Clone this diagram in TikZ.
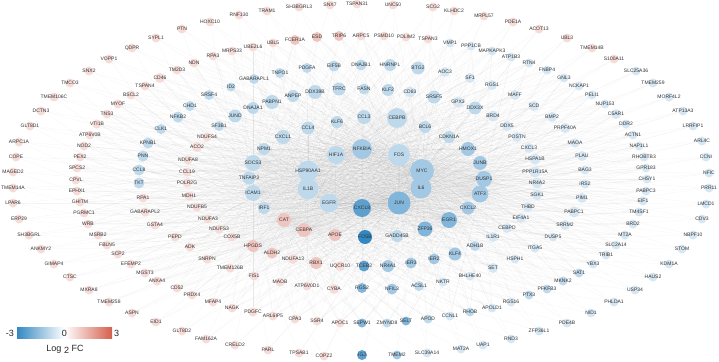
\documentclass[tikz,border=0pt]{standalone}
\usepackage{tikz}
\usepackage{fontspec}
\setmainfont{Liberation Sans}
\usetikzlibrary{backgrounds}

\definecolor{lfcblue}{RGB}{52,136,194}
\definecolor{lfcred}{RGB}{213,94,76}
\colorlet{u1}{lfcred!22!white}
\colorlet{u2}{lfcred!36!white}
\colorlet{d1}{lfcblue!20!white}
\colorlet{d2}{lfcblue!32!white}
\colorlet{d3}{lfcblue!46!white}
\colorlet{d4}{lfcblue!62!white}
\colorlet{d5}{lfcblue!80!white}
\colorlet{d6}{lfcblue}

% gene/x/y/diameter/colour
\newcommand\ringone{%
PTN/182/29/9/u1,HOXC10/210/22/9/u1,RNF130/239/15/9/u1,TRAM1/267/11/9/u1,%
SH3BGRL3/299/7/9/u1,SNX7/330/5/9/u1,TSPAN31/357/4/9/u1,UNC50/393/5/9/u1,%
SCG2/433/7/9/u1,KLHDC2/454/11/9/u1,MRPL57/484/16/9/u1,PDE1A/513/22/9/u1,%
ACOT13/539/29/9/u1,UBL3/567/38/9/u1,TMEM14B/592/48/9/u1,S100A11/614/59/9/u1,%
SLC25A36/636/71/9/d1,TMEM259/653/83/9/d1,MORF4L2/669/97/9/d1,ATP13A3/683/111/9/d1,%
LRRFIP1/693/126/9/d1,ARL4C/702/141/9/d1,CCNI/706/157/9/d1,NFIC/709/173/9/d1,%
PRR11/709/188/9/d1,LMCD1/706/204/9/d1,CDV3/702/219/9/d1,NBPF10/693/235/9/d1,%
STOM/682/249/9/d1,KDM1A/669/264/9/d1,HAUS2/653/277/9/d1,USP34/635/290/9/d1,%
PHLDA1/614/302/9/d1,NID1/591/313/9/d1,PDE4B/567/323/9/d1,ZFP36L1/539/331/9/d1,%
RND3/511/339/9/d1,UAP1/483/345/9/d1,MAT2A/461/349/9/d1,SLC39A14/427/353/9/d1,%
TMEM2/397/355/9/d3,IGJ/362/355/10/d5,COPZ2/324/356/9/u1,TPSAB1/299/353/9/u1,%
PARL/268/350/9/u1,CRELD2/235/345/9/u1,FAM162A/206/339/9/u1,GLT8D2/182/331/9/u1,%
EID1/156/322/9/u1,ASPN/132/313/9/u1,TMEM258/109/302/9/u1,MXRA8/89/290/9/u1,%
CTSC/70/277/9/u1,GIMAP4/54/264/9/u1,ANKMY2/41/249/9/u1,SH3BGRL/29/235/9/u1,%
ERP29/19/219/9/u1,LPAR6/13/203/9/u1,TMEM14A/13/188/9/u1,MAGED2/13/172/9/u1,%
COPE/16/157/9/u1,ARPC1A/19/142/9/u1,GLT8D1/30/126/9/u1,DCTN3/41/111/9/u1,%
TMEM106C/54/97/9/u1,TMCO3/70/83/9/u1,SNX2/89/71/9/u1,VOPP1/109/59/9/u1,%
QDPR/132/48/9/u1,SYPL1/156/38/9/u1}

\newcommand\ringtwo{%
CD46/160/78/10/u1,TSPAN4/145/86/9/u1,BSCL2/131/95/9/u1,MYOF/118/104/9/u1,%
TNS3/107/114/9/u1,VTI1B/97/124/9/u1,ATP6V0B/90/135/9/u1,NOD2/84/146/9/u1,%
PEX2/80/157/9/u1,SPCS2/77/168/9/u1,CPVL/76/180/9/u1,EPHX1/77/191/9/u1,%
GHITM/80/202/9/u1,PGRMC1/84/213/9/u1,WRB/88/224/9/u1,MSRB2/98/235/9/u1,%
FBLN5/107/245/9/u1,SCP2/118/254/9/u1,EFEMP2/131/264/9/u1,MGST3/145/273/9/u1,%
ANXA4/157/281/9/u1,CD52/177/288/9/u1,PRDX4/192/295/9/u1,MFAP4/213/302/9/u1,%
NAGK/232/308/9/u1,PDGFC/253/312/9/u1,ARL6IP5/273/316/9/u1,CPA3/295/319/9/u1,%
SSR4/317/321/9/u1,APOC1/340/323/9/u1,SEPW1/362/323/9/d4,ZMYND8/387/323/9/d2,%
SELT/406/321/9/d4,APOD/428/319/9/d2,CCNL1/450/316/9/d1,RHOB/470/312/9/d2,%
APOLD1/492/308/9/d1,RGS16/511/302/9/d1,PTX3/529/295/9/d2,PFKFB3/547/289/9/d2,%
MKNK2/563/281/9/d2,SAT1/579/273/9/d2,YBX3/593/264/9/d1,TRIB1/606/255/9/d1,%
SLC2A14/616/245/9/d1,MT2A/625/235/9/d1,BRD2/633/224/9/d1,TM4SF1/639/212/9/d1,%
EIF1/643/201/9/d1,PABPC3/646/191/9/d1,CHSY1/647/179/9/d1,GPR183/646/168/9/d1,%
RHOBTB3/644/157/9/d1,NAP1L1/639/146/9/d1,ACTN1/633/135/9/d1,DDR2/626/124/9/d1,%
C5AR1/616/114/10/d1,NUP153/605/104/9/d1,PELI1/592/95/9/d1,NCKAP1/579/86/9/d1,%
GNL3/564/78/9/d1,FNBP4/547/70/9/d1,RTN4/529/63/9/d1,ATP1B3/511/57/9/d1,%
MAPKAPK3/492/51/9/d1,PPP1CB/471/46/9/d1,VMP1/450/43/9/d1,TSPAN3/428/39/9/u1,%
PDLIM2/406/37/9/u1,PSMD10/384/36/9/u1,ARPC5/361/36/9/u1,TRIP6/339/36/10/u2,%
ESD/317/37/10/u2,FCER1A/295/40/10/u2,UBL5/273/43/9/u1,UBE2L6/253/47/9/u1,%
MRPS33/232/51/9/u1,RPA3/213/56/9/u1,NDN/194/63/9/u1,TM2D3/177/70/9/u1}

\newcommand\ringthree{%
NFKB2/178/117/11/d2,CLK1/161/129/10/d2,KPNB1/148/143/11/d2,PNN/143/156/11/d2,%
CCL8/139/170/11/d2,TKT/139/183/11/d2,RPA1/143/198/9/u1,GABARAPL2/145/212/9/u1,%
GSTA4/155/225/9/u1,PEPD/175/237/9/u1,ADK/190/247/9/u1,SNRPN/207/259/9/u1,%
TMEM126B/230/268/9/u1,FIS1/254/276/9/u1,MAOB/280/282/9/u1,ATP6V0D1/307/286/9/u1,%
CYBA/334/289/10/u1,RGS2/362/288/10/d4,NFIL3/392/289/11/d3,ACSL1/419/286/10/d2,%
NKTR/443/282/9/d1,BHLHE40/470/276/9/d1,SET/493/268/10/d1,HSPH1/515/259/9/d1,%
ITGA5/535/248/9/d1,DUSP5/553/237/9/d1,SRRM2/565/225/10/d1,PABPC1/574/212/11/d1,%
PIM1/582/198/10/d1,IRS2/585/184/9/d1,BAG3/585/170/9/d1,PLAU/582/156/10/d1,%
MAOA/575/143/9/d1,PRPF40A/565/128/10/d1,BMP2/552/117/10/d1,SCD/534/106/10/d1,%
MAFF/515/95/10/d1,RGS1/492/85/10/d1,SF1/470/78/10/d1,AOC3/445/72/10/d1,%
BTG2/418/68/13/d2,HNRNPL/390/65/12/d2,DNAJB1/361/65/11/d2,EIF5B/334/66/11/d2,%
PDGFA/307/68/10/d2,TNPO1/280/73/10/d2,GABARAPL1/254/79/10/d2,ID2/231/87/9/d2,%
SRSF4/209/95/10/d2,CHD1/190/106/10/d2}

\newcommand\ringfour{%
JUND/235/116/13/d2,SF3B1/219/126/10/d2,NDUFS4/207/137/9/u1,ACO2/197/147/10/u1,%
NDUFA8/188/160/9/u1,CCL19/187/172/9/u1,POLR2G/187/183/9/u1,MDH1/189/196/9/u1,%
NDUFB5/197/207/9/u1,NDUFA3/208/219/9/u1,NDUFS3/219/229/9/u1,COX5B/232/237/9/u1,%
HPGDS/253/246/12/u2,ALDH2/272/253/11/u2,NDUFA13/293/259/10/u1,RBX1/316/263/12/u2,%
UQCR10/340/266/10/u1,TCEB2/364/266/11/d5,NR4A1/388/266/12/d3,IER3/411/263/11/d3,%
IER2/434/259/11/d3,KLF4/455/254/13/d3,ADH1B/475/246/10/d2,IL1R1/493/237/10/d1,%
CEBPD/507/228/10/d1,EIF4A1/521/218/10/d1,THBD/528/207/10/d1,SGK1/537/195/10/d1,%
NR4A2/537/183/11/d1,PPP1R15A/535/172/11/d1,HSPA1B/535/159/11/d1,CXCL3/529/148/10/d1,%
POSTN/517/137/10/d1,DDX5/507/126/10/d1,BRD4/493/116/11/d1,DDX3X/475/108/13/d2,%
GPX3/458/102/11/d1,SRSF5/434/97/13/d2,CD83/410/92/11/d1,KLF2/388/90/12/d2,%
FASN/364/89/11/d2,TFRC/339/89/13/d2,DDX39B/315/92/14/d2,ANPEP/293/96/12/d2,%
PABPN1/272/102/14/d2,DNAJA1/253/108/12/d2}

\newcommand\ringfive{%
KLF6/337/122/12/d2,CCL4/308/128/13/d2,CXCL1/283/137/14/d2,NPM1/264/149/12/d2,%
SOCS3/253/163/16/d2,TNFAIP3/249/178/13/d2,ICAM1/253/193/16/d2,IRF1/264/208/12/d2,%
CAT/284/220/14/u2,CEBPA/304/230/14/u2,APOE/335/235/12/u2,FOSB/365/237/14/d6,%
GADD45B/397/236/12/d2,ZFP36/425/229/15/d4,EGR1/449/220/16/d4,CXCL2/468/208/13/d3,%
ATF3/480/194/17/d3,DUSP1/484/179/16/d3,JUNB/480/163/14/d3,HMOX1/468/149/14/d3,%
CDKN1A/449/137/12/d2,BCL6/425/127/12/d2,CEBPB/397/118/20/d2,CCL3/364/117/14/d2}

\newcommand\ringcore{%
HIF1A/336/155/18/d2,HSP90AA1/308/171/21/d2,IL1B/308/189/21/d2,EGFR/329/203/19/d2,%
CXCL8/362/208/18/d5,JUN/399/203/23/d4,IL6/421/188/21/d3,MYC/422/171/24/d3,%
FOS/399/155/22/d2,NFKBIA/362/149/20/d3}

\begin{document}
\begin{tikzpicture}[x=1pt, y=-1pt,
    gene/.style={circle, inner sep=0pt, minimum size=#1},
    genetext/.style={font=\fontsize{5}{6}\selectfont, text=black!80, inner sep=0pt},
    link/.style={draw=black, opacity=0.045, line width=0.25pt},
    legtext/.style={font=\fontsize{9}{10}\selectfont, text=black!85, inner sep=1pt}]
    \useasboundingbox (0,0) rectangle (719,361);

    % Genes, ring by ring
    \foreach \n/\x/\y/\d/\c in \ringone
        \node[gene=\d, fill=\c, label={[genetext]center:\n}] (\n) at (\x,\y) {};
    \foreach \n/\x/\y/\d/\c in \ringtwo
        \node[gene=\d, fill=\c, label={[genetext]center:\n}] (\n) at (\x,\y) {};
    \foreach \n/\x/\y/\d/\c in \ringthree
        \node[gene=\d, fill=\c, label={[genetext]center:\n}] (\n) at (\x,\y) {};
    \foreach \n/\x/\y/\d/\c in \ringfour
        \node[gene=\d, fill=\c, label={[genetext]center:\n}] (\n) at (\x,\y) {};
    \foreach \n/\x/\y/\d/\c in \ringfive
        \node[gene=\d, fill=\c, label={[genetext]center:\n}] (\n) at (\x,\y) {};
    \foreach \n/\x/\y/\d/\c in \ringcore
        \node[gene=\d, fill=\c, label={[genetext]center:\n}] (\n) at (\x,\y) {};

    % Interactions (behind the genes)
    \begin{scope}[on background layer]
        \foreach \h in {MYC,JUN,IL6,FOS,NFKBIA,HSP90AA1,IL1B,EGFR,HIF1A,CXCL8}
            \foreach \n/\x/\y/\d/\c in \ringfive \draw[link] (\h) -- (\n);
        \foreach \a/\b in {MYC/IL6,MYC/FOS,MYC/JUN,JUN/FOS,JUN/IL6,IL6/IL1B,IL1B/HSP90AA1,
                           HSP90AA1/HIF1A,HIF1A/NFKBIA,NFKBIA/FOS,EGFR/CXCL8,CXCL8/JUN,
                           EGFR/IL1B,IL6/CXCL8,MYC/HIF1A,JUN/EGFR,FOS/IL1B,NFKBIA/IL6}
            \draw[link] (\a) -- (\b);
        \foreach \h in {MYC,JUN,IL6,FOS,NFKBIA}
            \foreach \n/\x/\y/\d/\c in \ringfour \draw[link] (\h) -- (\n);
        \foreach \h in {HSP90AA1,IL1B,EGFR,HIF1A,CXCL8,MYC,JUN}
            \foreach \n/\x/\y/\d/\c in \ringthree \draw[link] (\h) -- (\n);
        \foreach \h in {CEBPB,ATF3,EGR1,SOCS3,ICAM1,CAT,CEBPA,DUSP1}
            \foreach \n/\x/\y/\d/\c in \ringtwo \draw[link] (\h) -- (\n);
        \foreach \h in {JUN,MYC,HPGDS}
            \foreach \n/\x/\y/\d/\c in \ringone \draw[link] (\h) -- (\n);
    \end{scope}

    % Colour legend
    \shade[left color=lfcblue, right color=white] (17,327) rectangle (64.5,338);
    \shade[left color=white, right color=lfcred] (64.5,327) rectangle (112,338);
    \node[legtext, anchor=east] (lgmin) at (15,333) {-3};
    \node[legtext] (lgzero) at (64.5,333) {0};
    \node[legtext, anchor=west] (lgmax) at (113,333) {3};
    \node[legtext] (lgtitle) at (65,349) {Log \raisebox{-2pt}{2} FC};
\end{tikzpicture}
\end{document}
